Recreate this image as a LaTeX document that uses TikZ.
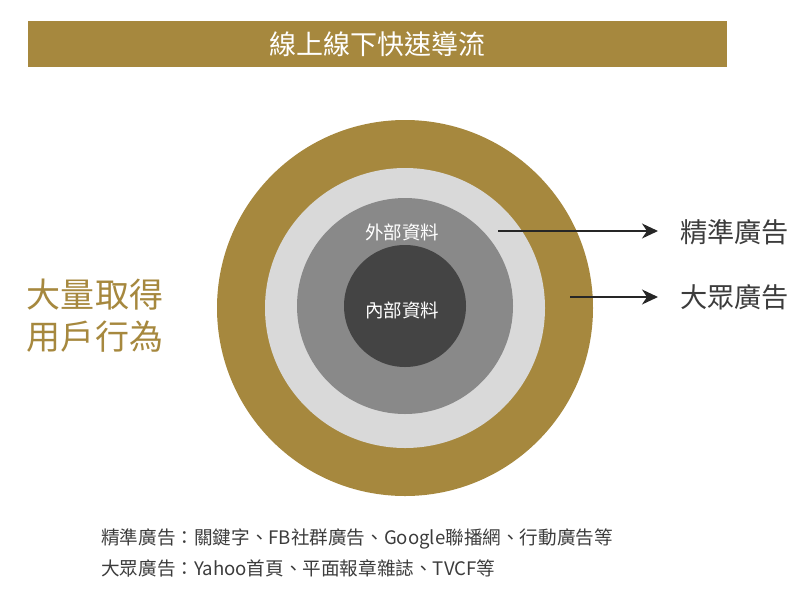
\documentclass[tikz,border=0pt]{standalone}
\usepackage{fontspec}
\setmainfont{Noto Sans CJK TC}
\usetikzlibrary{arrows.meta}
\definecolor{gold}{RGB}{166,136,62}
\definecolor{lgray}{RGB}{217,217,217}
\definecolor{mgray}{RGB}{137,137,137}
\definecolor{dgray}{RGB}{68,68,68}
\definecolor{txt}{RGB}{60,60,60}
\begin{document}
\begin{tikzpicture}[x=1pt,y=-1pt,
  ring/.style={circle,inner sep=0pt,draw=none},
  lab/.style={inner sep=0pt,anchor=west,text=txt,font=\fontsize{27.2}{30}\selectfont},
  ctr/.style={inner sep=0pt,text=white,font=\fontsize{18.5}{20}\selectfont},
  arr/.style={line width=1.3pt,black!85,-{Stealth[length=16pt,width=15pt,inset=5pt]}}]
\useasboundingbox (0,0) rectangle (800,595);
% title bar
\node[fill=gold,minimum width=699pt,minimum height=46pt,inner sep=0pt] (bar) at (377.5,44) {};
\node[text=white,inner sep=0pt,font=\fontsize{27}{30}\selectfont] (title) at (377,44) {線上線下快速導流};
% circles
\node[ring,fill=gold,minimum size=376pt] (outer) at (405,308) {};
\node[ring,fill=lgray,minimum size=280pt] (light) at (405,308) {};
\node[ring,fill=mgray,minimum size=216pt] (mid) at (405,306) {};
\node[ring,fill=dgray,minimum size=122pt] (inner) at (405,306) {};
\node[ctr] (ext) at (402,232) {外部資料};
\node[ctr] (int) at (402,310) {內部資料};
% left text
\node[inner sep=0pt,text=gold,align=left,font=\fontsize{34}{42}\selectfont] (left) at (95,316) {大量取得\\用戶行為};
% right labels
\node[lab] (p1) at (680,232) {精準廣告};
\node[lab] (p2) at (680,297) {大眾廣告};
\coordinate (s1) at (498,231);
\coordinate (s2) at (570,297);
\draw[arr,shorten >=22pt] (s1) -- (s1 -| p1.west);
\draw[arr,shorten >=22pt] (s2) -- (s2 -| p2.west);
% bottom notes
\node[inner sep=0pt,anchor=west,text=txt,font=\fontsize{18.6}{22}\selectfont] (n1) at (101,539) {精準廣告：關鍵字、FB社群廣告、Google聯播網、行動廣告等};
\node[inner sep=0pt,anchor=west,text=txt,font=\fontsize{18.6}{22}\selectfont] (n2) at (101,568) {大眾廣告：Yahoo首頁、平面報章雜誌、TVCF等};
\end{tikzpicture}
\end{document}
